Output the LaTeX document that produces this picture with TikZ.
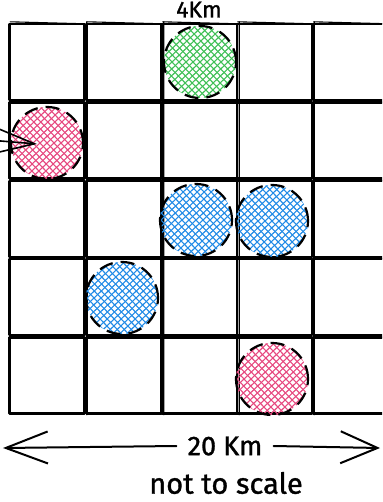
\documentclass[tikz,border=0pt]{standalone}
\usepackage{fontspec}
\setmainfont{Fira Sans}
\newfontfamily\hand[FakeBold=1.2]{Fira Sans}
\usetikzlibrary{arrows.meta,calc}
\definecolor{hgreen}{HTML}{40C057}
\definecolor{hpink}{HTML}{E64980}
\definecolor{hblue}{HTML}{228BE6}
\tikzset{
  cellbox/.style={draw=black, line width=2.4pt, line join=round, minimum width=75pt, minimum height=76pt, inner sep=0pt},
  cellextra/.style={draw=black, line width=1.1pt},
  hatch/.style={
    circle, inner sep=0pt, minimum size=72pt,
    draw=black, line width=2.2pt, dash pattern=on 14pt off 8pt,
    path picture={
      \foreach \d in {-84,-77,...,84}{
        \draw[#1, line width=1.1pt, solid] ($(path picture bounding box.center)+(\d-50,-52)$) -- ++(100,104);
        \draw[#1, line width=1.1pt, solid] ($(path picture bounding box.center)+(\d+50,-48)$) -- ++(-100,96);
      }
    }
  },
  txt/.style={font=\hand\fontsize{#1}{#1}\selectfont, inner sep=1pt},
  sketcharrow/.style={line width=2pt, line cap=round, -{Straight Barb[length=#1, width=32pt, line width=2pt]}},
}
\begin{document}
\begin{tikzpicture}[x=1pt,y=-1pt]
\useasboundingbox (0,0) rectangle (382,502);
\clip (0,0) rectangle (382,502);
% grid cells
\foreach \r/\cy in {1/62, 2/140.5, 3/219, 4/297, 5/375.5}{
  \foreach \c/\cx in {1/47, 2/124, 3/199.5, 4/274.5, 5/350.5}{
    \node[cellbox] (c\r\c) at (\cx,\cy) {};
    \draw[cellextra] ($(c\r\c.north west)+(1.5,-1)$) -- ($(c\r\c.north east)+(-0.5,1)$)
                     ($(c\r\c.south east)+(1,0.5)$) -- ($(c\r\c.north east)+(1,-1.5)$);
  }
}
% hatched circles
\node[hatch=hgreen] (green) at (200,62) {};
\node[hatch=hpink]  (pinkA) at (47,143) {};
\node[hatch=hblue]  (blueA) at (196,220) {};
\node[hatch=hblue]  (blueB) at (272,221) {};
\node[hatch=hblue]  (blueC) at (122,298) {};
\node[hatch=hpink]  (pinkB) at (272,379) {};
% arrow into pink circle
\coordinate (inSrc) at (-60,136);
\coordinate (inTip) at (37,144);
\draw[line width=1.6pt, -{Straight Barb[length=37pt, width=24pt, line width=1.6pt]}] (inSrc) -- (inTip);
% top label
\node[txt=23pt, anchor=base] (topLbl) at (199,17.5) {4Km};
% bottom dimension arrow
\node[txt=27pt] (dist) at (225,446) {20 Km};
\coordinate (aL) at (3,448);
\coordinate (aR) at (380,448);
\draw[sketcharrow=42pt] ([xshift=-10pt]dist.west) -- (aL);
\draw[sketcharrow=37pt] ([xshift=10pt]dist.east) -- (aR);
\node[txt=29pt] (note) at (226,483) {not to scale};
\end{tikzpicture}
\end{document}
